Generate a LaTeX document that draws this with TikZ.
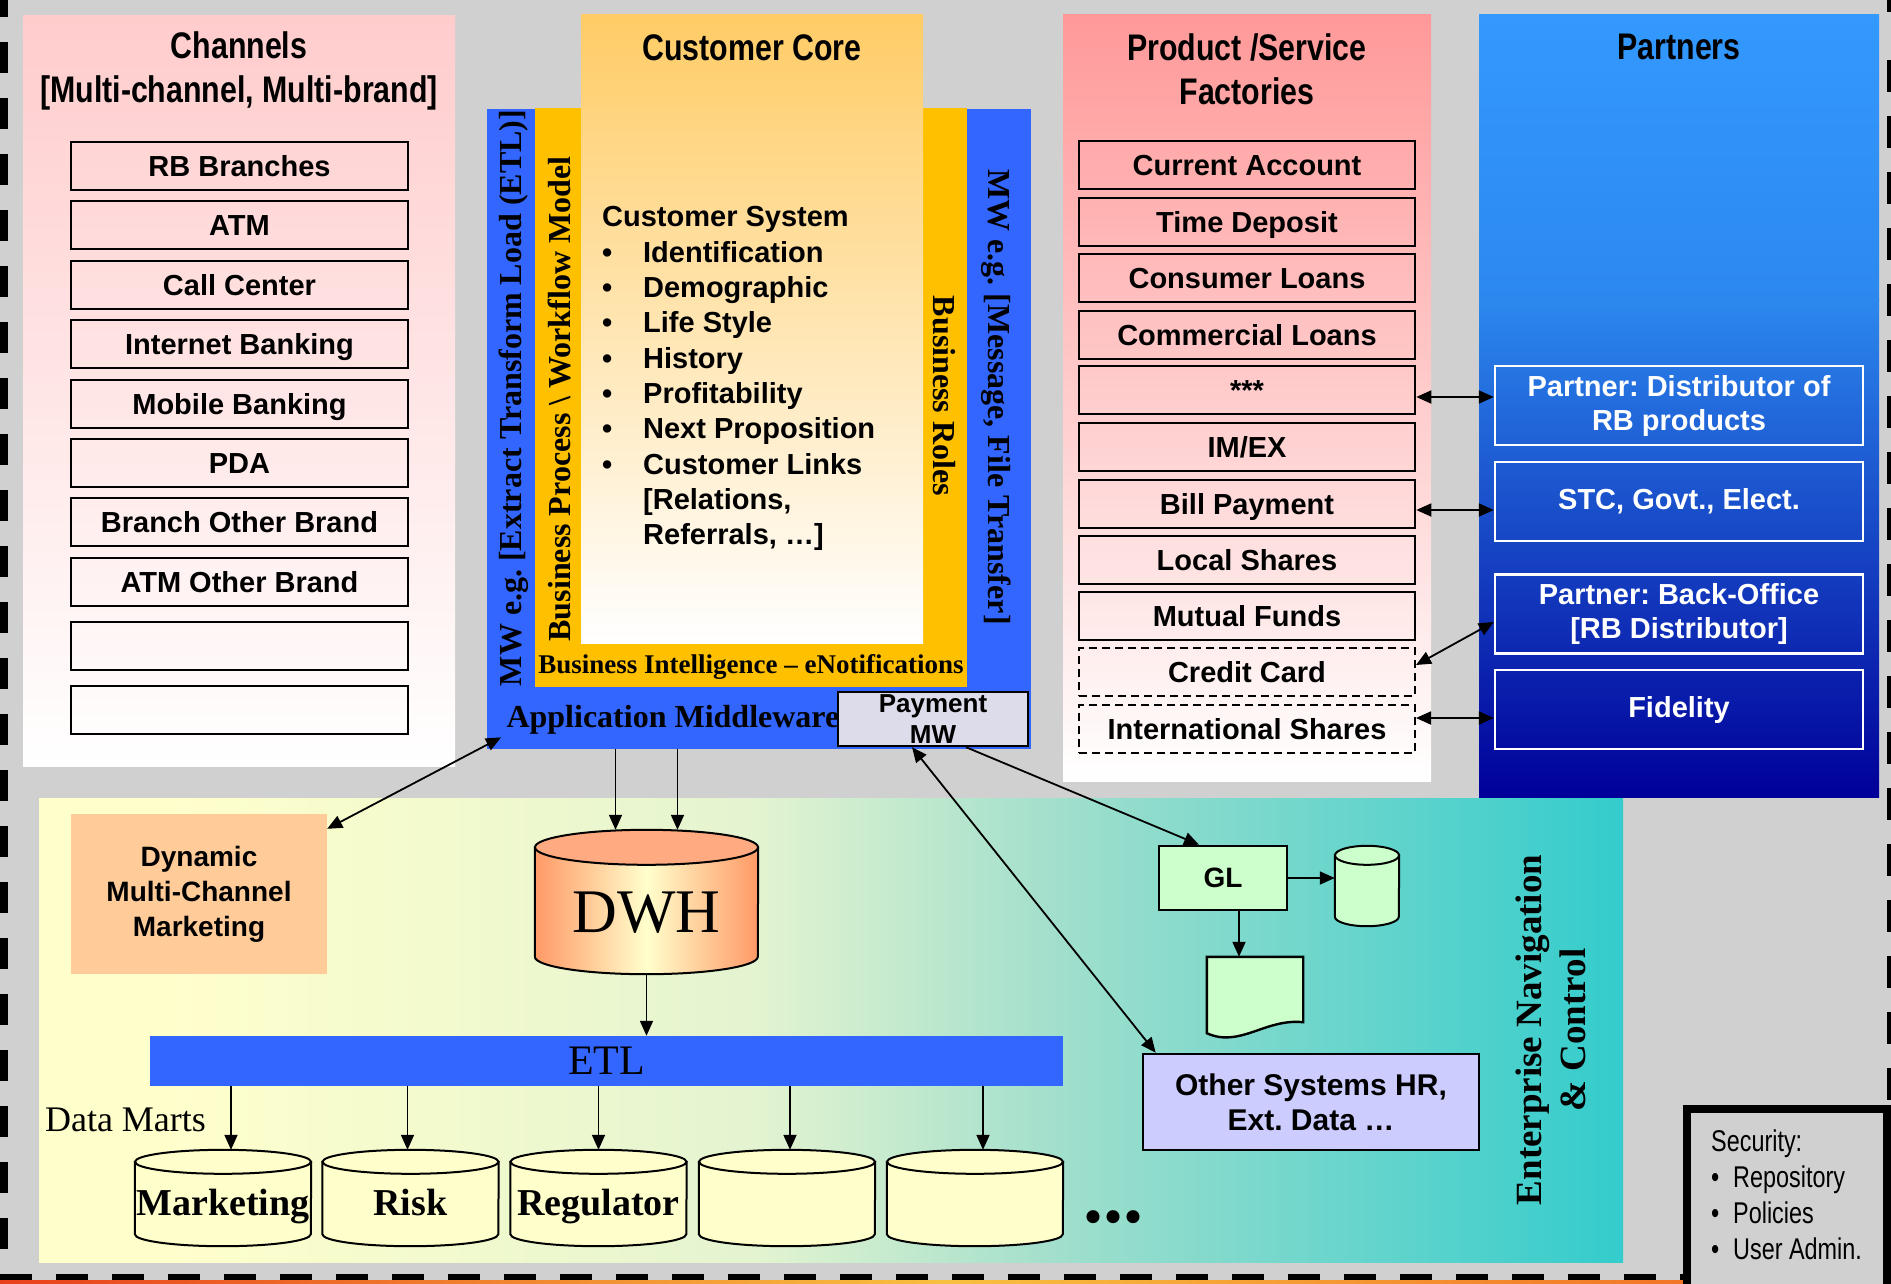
\documentclass[tikz,border=0pt]{standalone}
\usepackage{fontspec}
\setmainfont{Liberation Serif}
\setsansfont{Liberation Sans}
\newfontfamily\narrowsf[FakeStretch=0.82]{Liberation Sans}
\newfontfamily\secsf[FakeStretch=0.78]{Liberation Sans}
\usetikzlibrary{arrows.meta}
\frenchspacing

\definecolor{bggray}{HTML}{D0D0D0}
\definecolor{chpink}{HTML}{FFCCCC}
\definecolor{fcpink}{HTML}{FF9999}
\definecolor{ptblue}{HTML}{3399FF}
\definecolor{ptmid}{HTML}{2C88EE}
\definecolor{ptnavy}{HTML}{000099}
\definecolor{ccorange}{HTML}{FFCC66}
\definecolor{mwblue}{HTML}{3366FF}
\definecolor{bporange}{HTML}{FFC000}
\definecolor{paylav}{HTML}{DCDCEA}
\definecolor{dynpeach}{HTML}{FFCC99}
\definecolor{dwhside}{HTML}{FF9966}
\definecolor{dwhtop}{HTML}{FFAA80}
\definecolor{dmyellow}{HTML}{FFFFCC}
\definecolor{glgreen}{HTML}{CCFFCC}
\definecolor{othlav}{HTML}{CCCCFF}
\definecolor{entpale}{HTML}{E4F4D0}
\definecolor{entmint}{HTML}{A2DFCC}
\definecolor{entteal}{HTML}{33CCCC}
\definecolor{edgered}{HTML}{E8401C}
\definecolor{edgeyel}{HTML}{F8C040}
\definecolor{edgeora}{HTML}{F06020}

% the filled path takes the 25bp..75bp part of the shading
\pgfdeclarehorizontalshading{entshade}{100bp}{color(0bp)=(dmyellow); color(29bp)=(dmyellow);
  color(47.5bp)=(entpale); color(57bp)=(entmint); color(75bp)=(entteal); color(100bp)=(entteal)}

\newcommand{\sarw}{-{Triangle[length=15pt,width=13pt]}}
\newcommand{\darw}{{Triangle[length=15pt,width=13pt]}-{Triangle[length=15pt,width=13pt]}}
\newcommand{\fsz}[2]{\fontsize{#1}{#2}\selectfont}
\newcommand{\itm}{\makebox[41pt][l]{\textbullet}}
\newcommand{\sitm}{\makebox[22pt][l]{\textbullet}}
% cylinder round a node: node, x radius, y radius, body options, top fill
\newcommand{\drum}[5]{%
  \draw[line width=2pt,#4] ([yshift=-#3]#1.north west) -- ([yshift=#3]#1.south west)
    arc[start angle=180,end angle=360,x radius=#2,y radius=#3]
    -- ([yshift=-#3]#1.north east) -- cycle;
  \draw[line width=2pt,fill=#5] ([yshift=-#3]#1.north) ellipse[x radius=#2,y radius=#3];}

\tikzset{
  title/.style={font=\narrowsf\bfseries\fsz{37}{44},align=center},
  chbox/.style={draw,line width=2.6pt,minimum width=337pt,minimum height=48pt,inner sep=0pt,
    text height=21pt,text depth=0pt,font=\sffamily\bfseries\fsz{29}{34}},
  fcbox/.style={chbox,minimum width=336pt},
  fcdash/.style={fcbox,line width=2pt,dash pattern=on 8pt off 5pt},
  ptbox/.style={draw=white,line width=2.4pt,minimum width=368pt,minimum height=79pt,inner sep=0pt,
    text=white,align=center,font=\sffamily\bfseries\fsz{29}{34}},
  vtext/.style={font=\bfseries\fsz{32}{38}},
  dmnode/.style={minimum width=176pt,minimum height=96pt,inner sep=0pt},
  dmtext/.style={font=\bfseries\fsz{38}{44},anchor=base},
  conn/.style={line width=1.8pt}
}

\begin{document}
\begin{tikzpicture}[x=1pt,y=-1pt]
\useasboundingbox (0,0) rectangle (1891,1283);
\clip (0,0) rectangle (1891,1283);
\fill[bggray] (0,0) rectangle (1891,1283);
%dashed frame
\draw[line width=7.5pt,dash pattern=on 31pt off 25pt] (4,-14) -- (4,1283);
\draw[line width=7.5pt,dash pattern=on 32pt off 24pt] (0,1278) -- (1891,1278);
\draw[line width=7.5pt,dash pattern=on 32pt off 24pt] (1891,60) -- (1891,1283);
\draw[line width=7.5pt] (1891,0) -- (1891,12);
\shade[left color=edgered,right color=edgeora,middle color=edgeyel] (0,1280.5) rectangle (1891,1283);

%channels
\shade[top color=chpink,bottom color=white] (23,15) rectangle (455,766);
\node[title] (chtitle) at (239,71) {Channels\\{}[Multi-channel, Multi-brand]};
\node[chbox] (ch1) at (239.5,166) {RB Branches};
\node[chbox] (ch2) at (239.5,225) {ATM};
\node[chbox] (ch3) at (239.5,285) {Call Center};
\node[chbox] (ch4) at (239.5,344) {Internet Banking};
\node[chbox] (ch5) at (239.5,404) {Mobile Banking};
\node[chbox] (ch6) at (239.5,463) {PDA};
\node[chbox] (ch7) at (239.5,522) {Branch Other Brand};
\node[chbox] (ch8) at (239.5,582) {ATM Other Brand};
\node[chbox] (ch9) at (239.5,646) {};
\node[chbox] (ch10) at (239.5,710) {};

%customer core inside the middleware
\node[fill=mwblue,minimum width=544pt,minimum height=640pt,inner sep=0pt,anchor=north west] (amw) at (487,109) {};
\fill[bporange] (535,108) rectangle (967,687);
\shade[top color=ccorange,bottom color=white] (581,14) rectangle (923,643);
\node[title] (cctitle) at (752,48) {Customer Core};
\node[anchor=north west,inner sep=0pt,align=left,font=\sffamily\bfseries\fsz{29}{35.3}] (cslist) at (602,206.5)
  {Customer System\\
   \itm Identification\\
   \itm Demographic\\
   \itm Life Style\\
   \itm History\\
   \itm Profitability\\
   \itm Next Proposition\\
   \itm Customer Links\\
   \hspace*{41pt}[Relations,\\
   \hspace*{41pt}Referrals, …]};
\node[vtext,rotate=90] (etlbar) at (514,398) {MW e.g. [Extract Transform Load (ETL)]};
\node[vtext,rotate=90] (bpbar) at (559,399) {Business Process \textbackslash\ Workflow Model};
\node[vtext,rotate=-90] (brbar) at (944,396) {Business Roles};
\node[vtext,rotate=-90] (msgbar) at (996,397) {MW e.g. [Message, File Transfer]};
\node[font=\bfseries\fsz{27}{32}] (bibar) at (751,667) {Business Intelligence -- eNotifications};
\node[vtext,anchor=west] (amwtext) at (503,720) {Application Middleware};
\node[draw,line width=2.4pt,fill=paylav,minimum width=190pt,minimum height=54pt,inner sep=0pt,
  align=center,font=\sffamily\bfseries\fsz{26}{31}] (pay) at (933,719) {Payment\\MW};

%factories
\shade[top color=fcpink,bottom color=white] (1063,14) rectangle (1431,781);
\node[title] (fctitle) at (1247,69.5) {Product /Service\\Factories};
\node[fcbox] (fc1) at (1247,165) {Current Account};
\node[fcbox] (fc2) at (1247,222) {Time Deposit};
\node[fcbox] (fc3) at (1247,278) {Consumer Loans};
\node[fcbox] (fc4) at (1247,335) {Commercial Loans};
\node[fcbox] (fc5) at (1247,390) {***};
\node[fcbox] (fc6) at (1247,447) {IM/EX};
\node[fcbox] (fc7) at (1247,504) {Bill Payment};
\node[fcbox] (fc8) at (1247,560) {Local Shares};
\node[fcbox] (fc9) at (1247,616) {Mutual Funds};
\node[fcdash] (fc10) at (1247,672) {Credit Card};
\node[fcdash] (fc11) at (1247,729) {International Shares};

%partners
\shade[top color=ptblue,bottom color=ptmid] (1479,14) rectangle (1879,300);
\shade[top color=ptmid,bottom color=ptnavy] (1479,299.5) rectangle (1879,797);
\node[title] (pttitle) at (1679,47) {Partners};
\node[ptbox] (pt1) at (1679,405.5) {Partner: Distributor of\\RB products};
\node[ptbox] (pt2) at (1679,501.5) {STC, Govt., Elect.};
\node[ptbox] (pt3) at (1679,614) {Partner: Back-Office\\{}[RB Distributor]};
\node[ptbox] (pt4) at (1679,709.5) {Fidelity};

%enterprise navigation and control
\shade[shading=entshade] (39,798) rectangle (1623,1262);
\node[fill=dynpeach,minimum width=256pt,minimum height=160pt,inner sep=0pt,align=center,
  font=\sffamily\bfseries\fsz{28}{35}] (dyn) at (199,894) {Dynamic\\Multi-Channel\\Marketing};
\node[minimum width=223pt,minimum height=144pt,inner sep=0pt] (dwh) at (646.5,902) {};
\drum{dwh}{111.5pt}{17.5pt}{left color=dwhside,right color=dwhside,middle color=dmyellow}{dwhtop}
\node[font=\fsz{62}{70},anchor=base] (dwhtext) at ([yshift=-30.5pt]dwh.center) {DWH};
\node[fill=mwblue,minimum width=913pt,minimum height=50pt,inner sep=0pt,font=\fsz{42}{48}] (etl) at (606.5,1061) {ETL};
\node[font=\fsz{36}{42}] (dmlabel) at (125.5,1120) {Data Marts};
\node[dmnode] (dm1) at (223,1198) {};
\node[dmnode] (dm2) at (410.5,1198) {};
\node[dmnode] (dm3) at (598.5,1198) {};
\node[dmnode] (dm4) at (787,1198) {};
\node[dmnode] (dm5) at (975,1198) {};
\drum{dm1}{88pt}{12pt}{fill=dmyellow}{dmyellow}
\drum{dm2}{88pt}{12pt}{fill=dmyellow}{dmyellow}
\drum{dm3}{88pt}{12pt}{fill=dmyellow}{dmyellow}
\drum{dm4}{88pt}{12pt}{fill=dmyellow}{dmyellow}
\drum{dm5}{88pt}{12pt}{fill=dmyellow}{dmyellow}
\node[dmtext] at ([yshift=-17.5pt]dm1.center) {Marketing};
\node[dmtext] at ([yshift=-17.5pt]dm2.center) {Risk};
\node[dmtext] at ([yshift=-17.5pt]dm3.center) {Regulator};
\node[font=\bfseries\fsz{80}{90},anchor=base] (dots) at (1113,1222) {...};
\node[draw,line width=2.6pt,fill=glgreen,minimum width=128pt,minimum height=64pt,inner sep=0pt,
  font=\sffamily\bfseries\fsz{28}{34}] (gl) at (1223,878) {GL};
\node[minimum width=64pt,minimum height=80pt,inner sep=0pt] (glcyl) at (1367,886) {};
\drum{glcyl}{32pt}{9.5pt}{fill=glgreen}{glgreen}
\node[minimum width=96pt,minimum height=81pt,inner sep=0pt] (gldoc) at (1255,997.5) {};
\draw[line width=2.4pt,fill=glgreen] (gldoc.north west) -- (gldoc.north east) -- ([yshift=16pt]gldoc.south east)
  .. controls ([xshift=-38pt,yshift=20pt]gldoc.south east) and ([xshift=33pt,yshift=-10pt]gldoc.south west)
  .. ([yshift=5pt]gldoc.south west) -- cycle;
\node[draw,line width=2.6pt,fill=othlav,minimum width=336pt,minimum height=96pt,inner sep=0pt,align=center,
  font=\sffamily\bfseries\fsz{30}{35}] (oth) at (1311,1102) {Other Systems HR,\\Ext. Data …};
\node[font=\bfseries\fsz{37}{44},rotate=90,align=center] (enctext) at (1551,1030) {Enterprise Navigation\\\& Control};

%security
\draw[line width=8pt,fill=bggray] (1687,1109) rectangle (1887,1295);
\node[anchor=north west,inner sep=0pt,align=left,font=\secsf\fsz{30}{35.7}] (sec) at (1711,1130)
  {Security:\\ \sitm Repository\\ \sitm Policies\\ \sitm User Admin.};

%connectors
\draw[conn,\darw] ([yshift=-7pt]fc5.east) -- ([yshift=-7pt]fc5.east -| pt1.west);
\draw[conn,\darw] ([yshift=-6pt]fc7.east) -- ([yshift=-6pt]fc7.east -| pt2.west);
\draw[conn,\darw] ([yshift=7pt]fc10.east) -- ([yshift=-8pt]pt3.west);
\draw[conn,\darw] ([yshift=11pt]fc11.east) -- ([yshift=11pt]fc11.east -| pt4.west);
\draw[conn,\darw] ([xshift=14pt,yshift=12pt]amw.south west) -- ([yshift=-15pt]dyn.north east);
\draw[conn,\sarw] ([xshift=-31pt]dwh.north |- amw.south) -- ([xshift=-31pt]dwh.north);
\draw[conn,\sarw] ([xshift=31pt]dwh.north |- amw.south) -- ([xshift=31pt]dwh.north);
\draw[conn,\sarw] (dwh.south) -- (dwh.south |- etl.north);
\draw[conn,\sarw] ([xshift=8pt]dm1.north |- etl.south) -- ([xshift=8pt]dm1.north);
\draw[conn,\sarw] ([xshift=-3pt]dm2.north |- etl.south) -- ([xshift=-3pt]dm2.north);
\draw[conn,\sarw] (dm3.north |- etl.south) -- (dm3.north);
\draw[conn,\sarw] ([xshift=3pt]dm4.north |- etl.south) -- ([xshift=3pt]dm4.north);
\draw[conn,\sarw] ([xshift=8pt]dm5.north |- etl.south) -- ([xshift=8pt]dm5.north);
\draw[conn,\sarw] ([xshift=33pt]pay.south) -- ([xshift=-24pt]gl.north);
\draw[conn,\darw] ([xshift=-21pt]pay.south) -- ([xshift=14pt]oth.north west);
\draw[conn,\sarw] (gl.east) -- (gl.east -| glcyl.west);
\draw[conn,\sarw] ([xshift=16pt]gl.south) -- ([xshift=16pt]gl.south |- gldoc.north);
\end{tikzpicture}
\end{document}
